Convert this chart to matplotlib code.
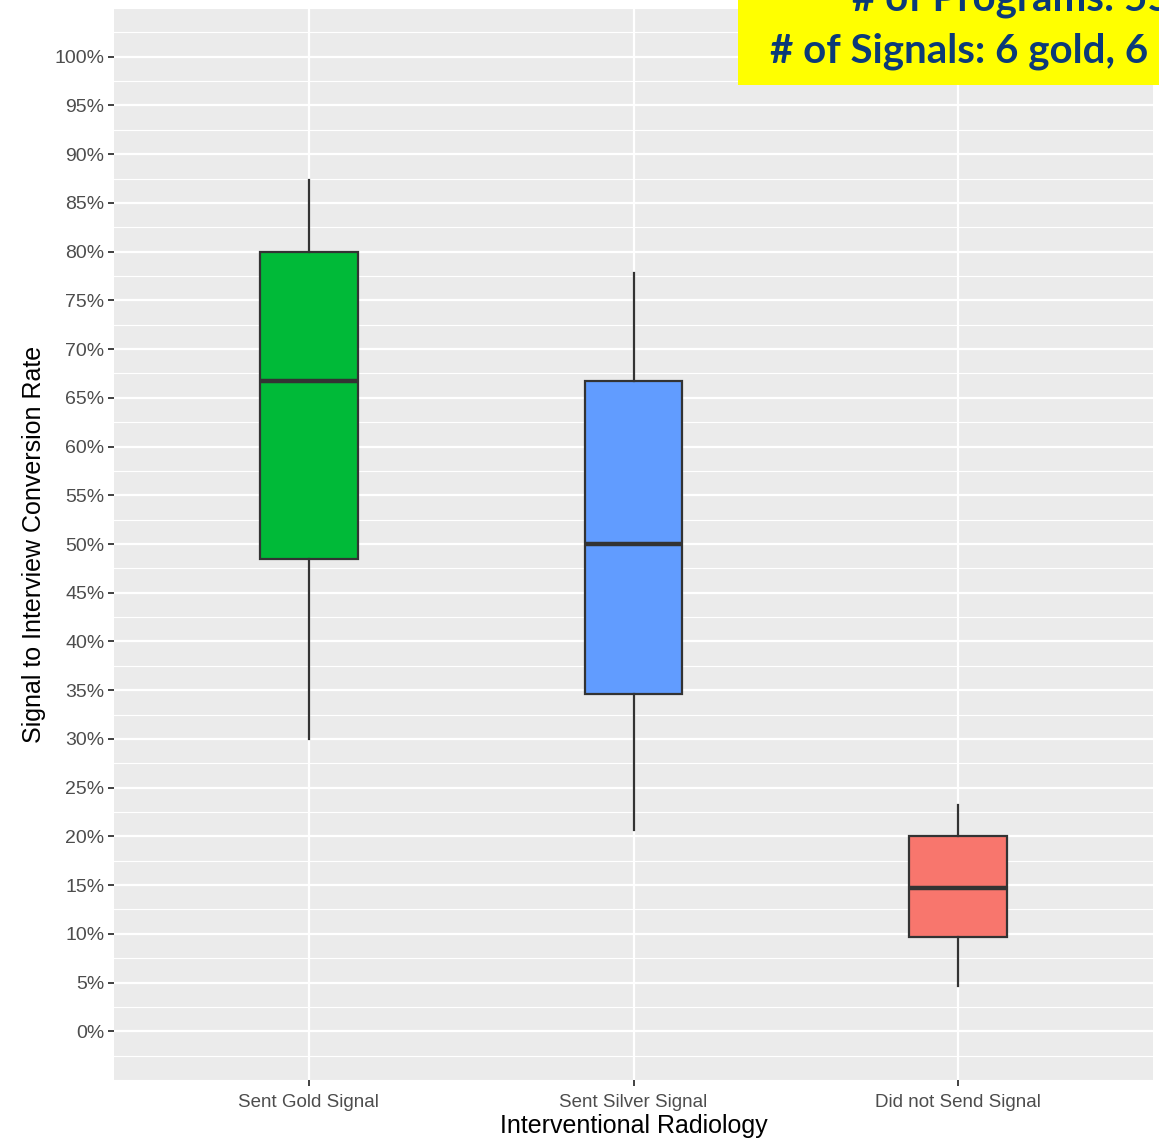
import matplotlib
matplotlib.use('Agg')
import matplotlib.pyplot as plt
from matplotlib.ticker import FixedLocator, MultipleLocator

categories = ['Sent Gold Signal', 'Sent Silver Signal', 'Did not Send Signal']
whisker_low = [30.0, 20.7, 4.6]
q1 = [48.5, 34.6, 9.7]
median = [66.7, 50.0, 14.7]
q3 = [80.0, 66.7, 20.0]
whisker_high = [87.4, 77.8, 23.2]
fill_colors = ['#00BA38', '#619CFF', '#F8766D']
y_ticks = list(range(0, 101, 5))

plt.rcParams['font.family'] = ['Liberation Sans', 'DejaVu Sans']

fig = plt.figure(figsize=(11.59, 11.38), dpi=100)
ax = fig.add_axes([114 / 1159, 58 / 1138, 1039 / 1159, 1072 / 1138])
ax.set_facecolor('#EBEBEB')

stats = []
for i, cat in enumerate(categories):
    stats.append({'label': cat, 'whislo': whisker_low[i], 'q1': q1[i], 'med': median[i],
                  'q3': q3[i], 'whishi': whisker_high[i], 'fliers': []})

bp = ax.bxp(stats, positions=[1, 2, 3], widths=0.3, patch_artist=True, showcaps=False,
            boxprops=dict(edgecolor='#333333', linewidth=1.6),
            whiskerprops=dict(color='#333333', linewidth=1.6),
            medianprops=dict(color='#333333', linewidth=3.2), zorder=3)
for patch, c in zip(bp['boxes'], fill_colors):
    patch.set_facecolor(c)

ax.set_xlim(0.4, 3.6)
ax.set_ylim(-5, 105)
ax.yaxis.set_major_locator(FixedLocator(y_ticks))
ax.yaxis.set_minor_locator(MultipleLocator(2.5))
ax.set_yticklabels([f'{v}%' for v in y_ticks])
ax.set_xticks([1, 2, 3])
ax.set_xticklabels(categories)

ax.grid(which='major', color='white', linewidth=1.6, zorder=0)
ax.grid(which='minor', axis='y', color='white', linewidth=0.8, zorder=0)
ax.set_axisbelow(True)
for s in ax.spines.values():
    s.set_visible(False)
ax.tick_params(axis='both', which='major', length=4, width=1.3, color='#333333',
               labelcolor='#4D4D4D', labelsize=13.5, pad=3)
ax.tick_params(axis='x', pad=6)
ax.tick_params(axis='y', labelsize=14)
ax.tick_params(axis='y', which='minor', length=0)

ax.set_xlabel('Interventional Radiology', fontsize=18, color='black', labelpad=2)
ax.set_ylabel('Signal to Interview Conversion Rate', fontsize=18, color='black', labelpad=6)

# yellow annotation box, cut off by the figure edge
fig.patches.append(plt.Rectangle((738 / 1159, (1138 - 85) / 1138), 1, 1, transform=fig.transFigure,
                                 facecolor='#FFFF00', edgecolor='none', zorder=5))
fig.text(852 / 1159, (1138 - 11) / 1138, '# of Programs: 55', fontsize=29, fontweight='bold',
         color='#0B3A78', family='Lato', ha='left', va='baseline', zorder=6)
fig.text(770 / 1159, (1138 - 62) / 1138, '# of Signals: 6 gold, 6 silver', fontsize=29, fontweight='bold',
         color='#0B3A78', family='Lato', ha='left', va='baseline', zorder=6)

fig.savefig('out.png', dpi=100)
